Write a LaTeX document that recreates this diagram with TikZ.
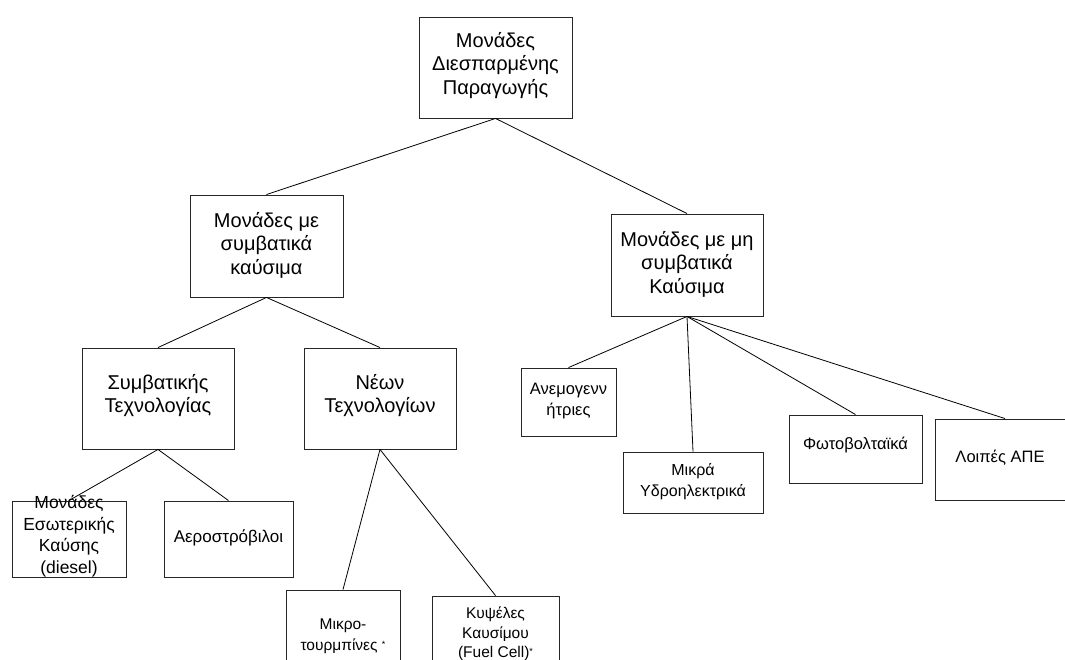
\documentclass[tikz,border=0pt]{standalone}
\usepackage{fontspec}
\setmainfont{Liberation Sans}
\tikzset{
  box/.style={draw=black!85, line width=0.9pt, rectangle, inner sep=0pt},
  big/.style={align=center, font=\fontsize{20}{23.5}\selectfont, inner sep=0pt},
  small/.style={align=center, font=\fontsize{16.5}{20.5}\selectfont, inner sep=0pt},
  conn/.style={draw=black, line width=0.8pt}
}
\newcommand{\smallstar}{\raisebox{0.35ex}{\fontsize{9}{9}\selectfont *}}
\begin{document}
\begin{tikzpicture}[x=1pt,y=-1pt]
\useasboundingbox (0,0) rectangle (1065,660);
\fill[white] (0,0) rectangle (1065,660);
% boxes
\node[box, minimum width=153pt, minimum height=101pt] (top) at (495.5,67.5) {};
\node[box, minimum width=153pt, minimum height=102pt] (conv) at (266.5,246) {};
\node[box, minimum width=152pt, minimum height=102pt] (nonconv) at (687,265) {};
\node[box, minimum width=152pt, minimum height=101pt] (convtech) at (158,398.5) {};
\node[box, minimum width=152pt, minimum height=101pt] (newtech) at (380,398.5) {};
\node[box, minimum width=114pt, minimum height=76pt] (ice) at (69,539) {};
\node[box, minimum width=129pt, minimum height=76pt] (gas) at (228.5,539) {};
\node[box, minimum width=114pt, minimum height=85pt] (micro) at (343,632.5) {};
\node[box, minimum width=127pt, minimum height=72pt] (fuel) at (495.5,632) {};
\node[box, minimum width=95pt, minimum height=68pt] (wind) at (568.5,402) {};
\node[box, minimum width=140pt, minimum height=61pt] (hydro) at (693,482.5) {};
\node[box, minimum width=133pt, minimum height=68pt] (pv) at (855.5,449) {};
\node[box, minimum width=140pt, minimum height=81pt] (other) at (1005,459.5) {};
% texts
\node[big] (ttop) at ([yshift=2pt]top.center) {Μονάδες\\Διεσπαρμένης\\Παραγωγής};
\node[big] (tconv) at ([yshift=1pt]conv.center) {Μονάδες με\\συμβατικά\\καύσιμα};
\node[big] (tnonconv) at ([yshift=1pt]nonconv.center) {Μονάδες με μη\\συμβατικά\\Καύσιμα};
\node[big] (tconvtech) at ([yshift=3pt]convtech.center) {Συμβατικής\\Τεχνολογίας};
\node[big] (tnewtech) at ([yshift=3pt]newtech.center) {Νέων\\Τεχνολογίων};
\node[small, font=\fontsize{17.5}{21.5}\selectfont] (tice) at ([yshift=3pt]ice.center) {Μονάδες\\Εσωτερικής\\Καύσης\\(diesel)};
\node[small, font=\fontsize{17}{21}\selectfont] (tgas) at ([yshift=1pt]gas.center) {Αεροστρόβιλοι};
\node[small, font=\fontsize{15.5}{21}\selectfont] (tmicro) at ([yshift=-4pt]micro.center) {Μικρο-\\τουρμπίνες \smallstar};
\node[small, font=\fontsize{15.5}{19.5}\selectfont] (tfuel) at ([yshift=-2pt]fuel.center) {Κυψέλες\\Καυσίμου\\(Fuel Cell)\smallstar};
\node[small] (twind) at ([yshift=1pt]wind.center) {Ανεμογενν\\ήτριες};
\node[small, font=\fontsize{16}{20.5}\selectfont] (thydro) at ([yshift=1pt]hydro.center) {Μικρά\\Υδροηλεκτρικά};
\node[small] (tpv) at ([yshift=4pt]pv.center) {Φωτοβολταϊκά};
\node[small] (tother) at ([xshift=-5pt,yshift=2pt]other.center) {Λοιπές ΑΠΕ};
% connectors
\draw[conn] (top.south) -- (conv.north);
\draw[conn] (top.south) -- (nonconv.north);
\draw[conn] (conv.south) -- (convtech.north);
\draw[conn] (conv.south) -- (newtech.north);
\draw[conn] (convtech.south) -- (ice.north);
\draw[conn] (convtech.south) -- (gas.north);
\draw[conn] (newtech.south) -- (micro.north);
\draw[conn] (newtech.south) -- (fuel.north);
\draw[conn] (nonconv.south) -- (wind.north);
\draw[conn] (nonconv.south) -- (hydro.north);
\draw[conn] (nonconv.south) -- (pv.north);
\draw[conn] (nonconv.south) -- (other.north);
\end{tikzpicture}
\end{document}
